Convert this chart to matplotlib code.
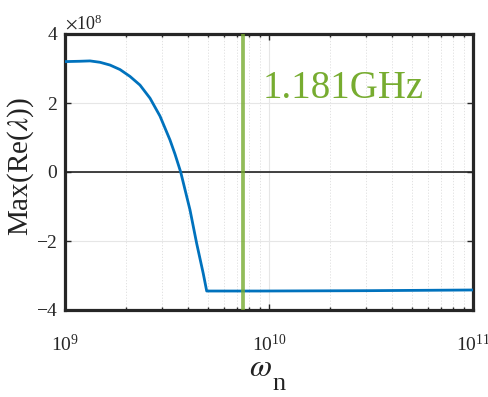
import matplotlib
matplotlib.use("Agg")
import matplotlib.pyplot as plt
import numpy as np
from matplotlib.ticker import ScalarFormatter, LogLocator, NullFormatter

plt.rcParams['font.family'] = ['Liberation Serif', 'DejaVu Serif']
plt.rcParams['mathtext.fontset'] = 'stix'

# data: omega_n (rad/s) vs Max(Re(lambda)) in units of 1e8
omega = [1.0e9, 1.184e9, 1.326e9, 1.485e9, 1.662e9, 1.860e9, 2.083e9, 2.331e9,
         2.610e9, 2.922e9, 3.27e9, 3.46e9, 3.69e9, 4.10e9, 4.42e9, 4.76e9,
         4.95e9, 9.04e9, 3.0e10, 1.0e11]
maxre = [3.20, 3.21, 3.22, 3.18, 3.10, 2.97, 2.77, 2.52,
         2.14, 1.62, 0.93, 0.52, 0.0, -1.10, -2.07, -2.94,
         -3.45, -3.45, -3.44, -3.42]
f_marker_ghz = 1.181
label_text = "1.181GHz"
yticks = [-4, -2, 0, 2, 4]

blue = '#0072BD'
green = '#77AC30'

fig = plt.figure(figsize=(4.89, 3.97), dpi=100)
ax = fig.add_axes([65/489, 1-310/397, (473-65)/489, (310-34)/397])

ax.plot(omega, np.array(maxre)*1e8, color=blue, lw=2.0, zorder=4)
ax.axhline(0, color='#222222', lw=1.2, zorder=3)
wm = 2*np.pi*f_marker_ghz*1e9
ax.axvline(wm, color=green, lw=2.7, alpha=0.8, zorder=5)
ax.text(9.3e9, 2.15e8, label_text, color=green, fontsize=28, ha='left', va='baseline', zorder=6)

ax.set_xscale('log')
ax.set_xlim(1e9, 1e11)
ax.set_ylim(-4e8, 4e8)
ax.set_yticks([v*1e8 for v in yticks])
fmt = ScalarFormatter(useMathText=True)
fmt.set_powerlimits((0, 0))
ax.yaxis.set_major_formatter(fmt)
ax.xaxis.set_minor_locator(LogLocator(base=10, subs=np.arange(2, 10), numticks=20))
ax.xaxis.set_minor_formatter(NullFormatter())

ax.grid(True, which='major', color='#e6e6e6', lw=0.8)
ax.grid(True, which='minor', axis='x', color='#dddddd', lw=0.6, ls=(0, (1.5, 2)))
ax.set_axisbelow(True)

for s in ax.spines.values():
    s.set_linewidth(2.3)
    s.set_color('#262626')
ax.tick_params(direction='in', which='both', colors='#262626', labelsize=14, length=4, top=True, right=True, width=1)
ax.tick_params(which='minor', length=2)
ax.tick_params(axis='x', pad=17)
ax.tick_params(axis='y', pad=5)
ax.yaxis.get_offset_text().set_fontsize(13)
ax.yaxis.get_offset_text().set_color('#262626')

ax.set_ylabel(r'Max(Re($\lambda$))', fontsize=21, color='#222222')
ax.yaxis.set_label_coords((36-65)/(473-65), (310-167)/(310-34))
ax.set_xlabel(r'$\omega$', fontsize=23, color='#222222', labelpad=2)
ax.xaxis.set_label_coords((260-65)/(473-65), -(376-310)/(310-34))
ax.xaxis.label.set_va('baseline')
fig.text(279/489, 1-390/397, 'n', fontsize=19, color='#222222', ha='center', va='baseline')

fig.savefig('out.png', dpi=100, facecolor='white')
